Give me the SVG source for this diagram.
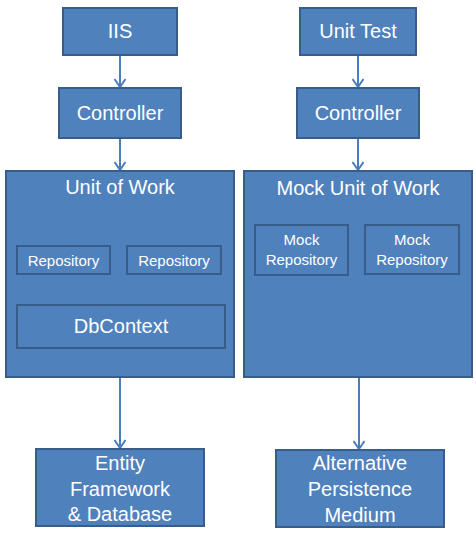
<svg xmlns="http://www.w3.org/2000/svg" width="476" height="539" viewBox="0 0 476 539">
  <style>
    .box { fill: #4F81BD; stroke: #385D8A; stroke-width: 2; }
    .t { fill: #FFFFFF; font-family: "Liberation Sans", Arial, sans-serif; font-size: 20px; text-anchor: middle; }
    .s { font-size: 15px; }
    .conn { stroke: #4A7EBB; stroke-width: 2; fill: none; }
  </style>
  <defs>
    <marker id="arrow" markerWidth="12" markerHeight="12" refX="10" refY="6" orient="auto" markerUnits="userSpaceOnUse">
      <path d="M2,0.5 L10,6 L2,11.5" fill="none" stroke="#4A7EBB" stroke-width="2"/>
    </marker>
  </defs>
  <rect width="476" height="539" fill="#FFFFFF"/>

  <g id="connectors">
    <line class="conn" x1="120" y1="55" x2="120" y2="87" marker-end="url(#arrow)"/>
    <line class="conn" x1="120" y1="138" x2="120" y2="170" marker-end="url(#arrow)"/>
    <line class="conn" x1="120" y1="377" x2="120" y2="448" marker-end="url(#arrow)"/>
    <line class="conn" x1="358" y1="55" x2="358" y2="87" marker-end="url(#arrow)"/>
    <line class="conn" x1="358" y1="138" x2="358" y2="170" marker-end="url(#arrow)"/>
    <line class="conn" x1="359" y1="377" x2="359" y2="449" marker-end="url(#arrow)"/>
  </g>

  <g id="iis">
    <rect class="box" x="63" y="8" width="114" height="47"/>
    <text class="t" x="120" y="38">IIS</text>
  </g>
  <g id="controller-left">
    <rect class="box" x="59" y="88" width="122" height="50"/>
    <text class="t" x="120" y="120">Controller</text>
  </g>
  <g id="unit-of-work">
    <rect class="box" x="6" y="171" width="228" height="206"/>
    <text class="t" x="120" y="194">Unit of Work</text>
  </g>
  <g id="repository-1">
    <rect class="box" x="17" y="246" width="93" height="28"/>
    <text class="t s" x="63.5" y="266">Repository</text>
  </g>
  <g id="repository-2">
    <rect class="box" x="127" y="246" width="94" height="28"/>
    <text class="t s" x="174" y="266">Repository</text>
  </g>
  <g id="dbcontext">
    <rect class="box" x="17" y="305" width="208" height="43"/>
    <text class="t" x="121" y="333">DbContext</text>
  </g>
  <g id="entity-framework">
    <rect class="box" x="36" y="449" width="168" height="77"/>
    <text class="t" x="120" y="470">Entity</text>
    <text class="t" x="120" y="496">Framework</text>
    <text class="t" x="120" y="521">&amp; Database</text>
  </g>

  <g id="unit-test">
    <rect class="box" x="300" y="8" width="116" height="47"/>
    <text class="t" x="358" y="38">Unit Test</text>
  </g>
  <g id="controller-right">
    <rect class="box" x="297" y="88" width="122" height="50"/>
    <text class="t" x="358" y="120">Controller</text>
  </g>
  <g id="mock-unit-of-work">
    <rect class="box" x="244" y="171" width="228" height="206"/>
    <text class="t" x="358" y="195">Mock Unit of Work</text>
  </g>
  <g id="mock-repository-1">
    <rect class="box" x="255" y="225" width="93" height="50"/>
    <text class="t s" x="301.5" y="245">Mock</text>
    <text class="t s" x="301.5" y="265">Repository</text>
  </g>
  <g id="mock-repository-2">
    <rect class="box" x="365" y="225" width="94" height="49"/>
    <text class="t s" x="412" y="245">Mock</text>
    <text class="t s" x="412" y="265">Repository</text>
  </g>
  <g id="alternative-persistence">
    <rect class="box" x="276" y="450" width="168" height="77"/>
    <text class="t" x="360" y="470">Alternative</text>
    <text class="t" x="360" y="496">Persistence</text>
    <text class="t" x="360" y="522">Medium</text>
  </g>
</svg>
